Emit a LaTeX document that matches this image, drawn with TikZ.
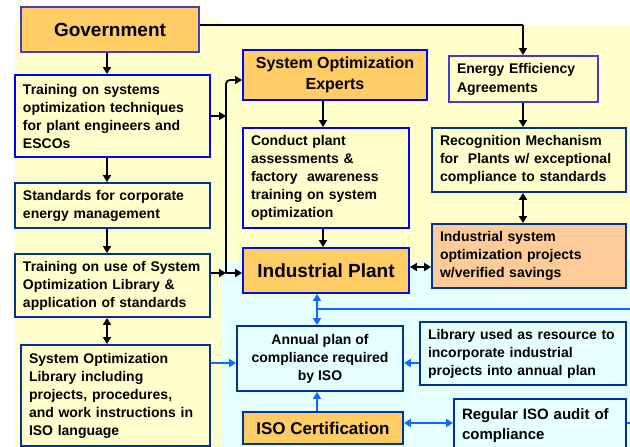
\documentclass[tikz,border=0pt]{standalone}
\usepackage{fontspec}
\setmainfont{Liberation Sans}
\usetikzlibrary{arrows.meta,calc}
\definecolor{bgyellow}{HTML}{FFFFCC}
\definecolor{bgcyan}{HTML}{E6FFFF}
\definecolor{orangefill}{HTML}{FFCC66}
\definecolor{peachfill}{HTML}{FFCC99}
\definecolor{brightblue}{HTML}{0000FF}
\definecolor{darkblue}{HTML}{003399}
\definecolor{purpleblue}{HTML}{3F3FC8}
\definecolor{linkblue}{HTML}{0A6CFF}
\newcommand\bodyfont{\bfseries\fontsize{14}{18}\selectfont}
\begin{document}
\begin{tikzpicture}[x=1pt,y=-1pt,
  box/.style={draw=darkblue, line width=1.9pt, inner xsep=8pt, inner ysep=0pt,
    font=\bodyfont, align=left, text=black},
  blkarrow/.style={line width=2.6pt, -{Triangle[length=7pt,width=8pt]}},
  blkdouble/.style={line width=2.6pt, {Triangle[length=7pt,width=8pt]}-{Triangle[length=7pt,width=8pt]}},
  thinarrow/.style={line width=1.7pt, -{Triangle[length=7pt,width=8pt]}},
  thinline/.style={line width=1.7pt},
  bluearrow/.style={draw=linkblue, line width=2.3pt, -{Triangle[length=7pt,width=8pt]}},
  bluedouble/.style={draw=linkblue, line width=2.3pt, {Triangle[length=7pt,width=8pt]}-{Triangle[length=7pt,width=8pt]}},
  blueline/.style={draw=linkblue, line width=2.3pt}
]
\useasboundingbox (0,0) rectangle (630,447);
\clip (0,0) rectangle (630,447);
% backgrounds
\fill[white] (0,0) rectangle (630,447);
\fill[bgyellow] (15,20) -- (220,20) -- (220,26) -- (630,26) -- (630,262) -- (222,262) -- (222,447) -- (15,447) -- cycle;
\fill[bgcyan] (222,262) rectangle (630,447);

% left column
\node[box, draw=purpleblue, fill=orangefill, minimum width=178pt, minimum height=45pt, align=center,
  font=\bfseries\fontsize{19}{22}\selectfont] (gov) at (110,29.5) {Government};
\node[box, draw=brightblue, fill=bgyellow, minimum width=195pt, minimum height=82pt, text width=179pt] (train1) at (112.5,116)
  {Training on systems\\optimization techniques\\for plant engineers and\\ESCOs};
\node[box, fill=bgyellow, minimum width=195pt, minimum height=45pt, text width=179pt] (std) at (112.5,205.5)
  {Standards for corporate\\energy management};
\node[box, fill=bgyellow, minimum width=195pt, minimum height=63pt, text width=179pt] (trainuse) at (112.5,285.5)
  {Training on use of System\\Optimization Library \&\\application of standards};
\node[box, fill=bgyellow, minimum width=189pt, minimum height=101pt, text width=173pt] (sol) at (115.5,395.5)
  {System Optimization\\Library including\\projects, procedures,\\and work instructions in\\ISO language};

% middle column
\node[box, draw=brightblue, fill=orangefill, minimum width=184pt, minimum height=50pt, align=center,
  font=\bfseries\fontsize{16}{21}\selectfont] (experts) at (335,75) {System Optimization\\Experts};
\node[box, draw=brightblue, fill=bgyellow, minimum width=166pt, minimum height=100pt, text width=150pt] (conduct) at (326,178)
  {Conduct plant\\assessments \&\\factory\ \ awareness\\training on system\\optimization};
\node[box, draw=blue!70!darkblue, fill=orangefill, minimum width=166pt, minimum height=45pt, align=center,
  font=\bfseries\fontsize{19}{22}\selectfont] (plant) at (326,270.5) {Industrial Plant};
\node[box, fill=bgcyan, minimum width=166pt, minimum height=65pt, align=center] (annual) at (320,358.5)
  {Annual plan of\\compliance required\\by ISO};
\node[box, fill=orangefill, minimum width=160pt, minimum height=32pt, align=center,
  font=\bfseries\fontsize{17}{20}\selectfont] (isocert) at (323,428) {ISO Certification};

% right column
\node[box, draw=purpleblue, fill=bgyellow, minimum width=149pt, minimum height=46pt, text width=133pt,
  font=\bfseries\fontsize{14}{19}\selectfont] (ee) at (523.5,79) {Energy Efficiency\\Agreements};
\node[box, fill=bgyellow, minimum width=194pt, minimum height=64pt, text width=178pt] (recog) at (529,160)
  {Recognition Mechanism\\for\ \ Plants w/ exceptional\\compliance to standards};
\node[box, fill=peachfill, minimum width=194pt, minimum height=64pt, text width=178pt] (isp) at (529,256)
  {Industrial system\\optimization projects\\w/verified savings};
\node[box, fill=bgcyan, minimum width=206pt, minimum height=63pt, text width=190pt] (libused) at (523,353.5)
  {Library used as resource to\\incorporate industrial\\projects into annual plan};
\node[box, fill=bgcyan, minimum width=172pt, minimum height=53pt, text width=156pt,
  font=\bfseries\fontsize{15}{20}\selectfont] (audit) at (540,425.5)
  {Regular ISO audit of\\compliance};

% helper coordinates
\coordinate (colL) at (107,0);
\coordinate (colM) at (323,0);
\coordinate (colB) at (317,0);
\coordinate (colR) at (523,0);
\coordinate (vtop) at (226,80);
\coordinate (vbot) at (226,273);
\coordinate (r116) at (0,116);
\coordinate (gy) at (0,25);
\coordinate (r267) at (0,267);
\coordinate (by) at (0,309);
\coordinate (r363) at (0,363);
\coordinate (ay) at (0,423);

% black connectors
\draw[blkarrow] (gov.south -| colL) -- (train1.north -| colL);
\draw[blkarrow] (train1.south -| colL) -- (std.north -| colL);
\draw[blkarrow] (std.south -| colL) -- (trainuse.north -| colL);
\draw[blkdouble] (trainuse.south -| colL) -- (sol.north -| colL);
\draw[blkarrow] (train1.east |- r116) -- (vtop |- r116);
\draw[thinarrow, rounded corners=4pt] (vbot) -- (vtop) -- (vtop -| experts.west);
\draw[blkarrow] (trainuse.east |- vbot) -- (vbot);
\draw[blkarrow] (vbot) -- (vbot -| plant.west);
\draw[thinline] (gov.east |- gy) -- (colR |- gy);
\draw[blkarrow] (colR |- gy) -- (ee.north -| colR);
\draw[blkarrow] (experts.south -| colM) -- (conduct.north -| colM);
\draw[blkarrow] (conduct.south -| colM) -- (plant.north -| colM);
\draw[blkarrow] (ee.south -| colR) -- (recog.north -| colR);
\draw[blkdouble] (recog.south -| colR) -- (isp.north -| colR);
\draw[blkdouble, line width=2.2pt] (plant.east |- r267) -- (isp.west |- r267);

% blue connectors
\draw[bluedouble] (plant.south -| colB) -- (annual.north -| colB);
\draw[blueline] (audit.east |- ay) -- (640,423) -- (640,309) -- (colB |- by);
\draw[bluearrow] (sol.east |- r363) -- (annual.west |- r363);
\draw[bluearrow] (libused.west |- r363) -- (annual.east |- r363);
\draw[bluearrow] (isocert.north -| colB) -- (annual.south -| colB);
\draw[bluedouble] (isocert.east |- ay) -- (audit.west |- ay);
\end{tikzpicture}
\end{document}
